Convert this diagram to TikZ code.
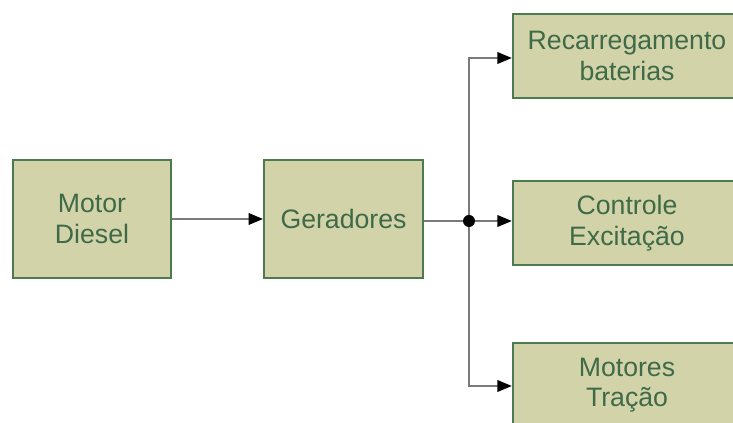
\documentclass[tikz,border=0pt]{standalone}
\usepackage{fontspec}
\setmainfont{Liberation Sans}
\usepackage{tikz}
\usetikzlibrary{calc,arrows.meta}
\definecolor{caixa}{HTML}{D3D3AA}
\definecolor{borda}{HTML}{4E7A52}
\definecolor{texto}{HTML}{3E6A47}
\definecolor{linha}{HTML}{7A7A7A}
\tikzset{
   bloco/.style={draw=borda, line width=1.5pt, fill=caixa, text=texto, align=center,
                 font=\fontsize{20}{23}\selectfont, inner sep=0pt},
   liga/.style={draw=linha, line width=2pt}
}
\begin{document}
\begin{tikzpicture}[x=0.75pt,y=-0.75pt,
                    >={Triangle[length=11pt,width=8.5pt]},
                    seta/.style={liga,-{>[fill=black,color=black]}}]
\useasboundingbox (0,0) rectangle (733,423);
\clip (0,0) rectangle (733,423);
\node[bloco,minimum width=118.5pt,minimum height=88.5pt] (motor) at (92,219)   {Motor\\Diesel};
\node[bloco,minimum width=119pt,minimum height=88.5pt]   (gera)  at (343.5,219) {Geradores};
\node[bloco,minimum width=171pt,minimum height=63pt]     (recarga)  at (627,56)  {Recarregamento\\baterias};
\node[bloco,minimum width=171pt,minimum height=63pt]     (controle) at (627,223) {Controle\\Excita\c{c}\~ao};
\node[bloco,minimum width=171pt,minimum height=63pt]     (tracao)   at (627,385) {Motores\\Tra\c{c}\~ao};
%
\coordinate (j) at (469,221);
\draw[seta] (motor.east) -- (gera.west);
\draw[liga] (gera.east |- j) -- (j);
\draw[seta] (j) -- (controle.west |- j);
\draw[seta] (j) |- ($ (recarga.west) + (0,2) $);
\draw[seta] (j) |- ($ (tracao.west) + (0,1) $);
\fill[black] (j) circle (4.5pt);
\end{tikzpicture}
\end{document}
